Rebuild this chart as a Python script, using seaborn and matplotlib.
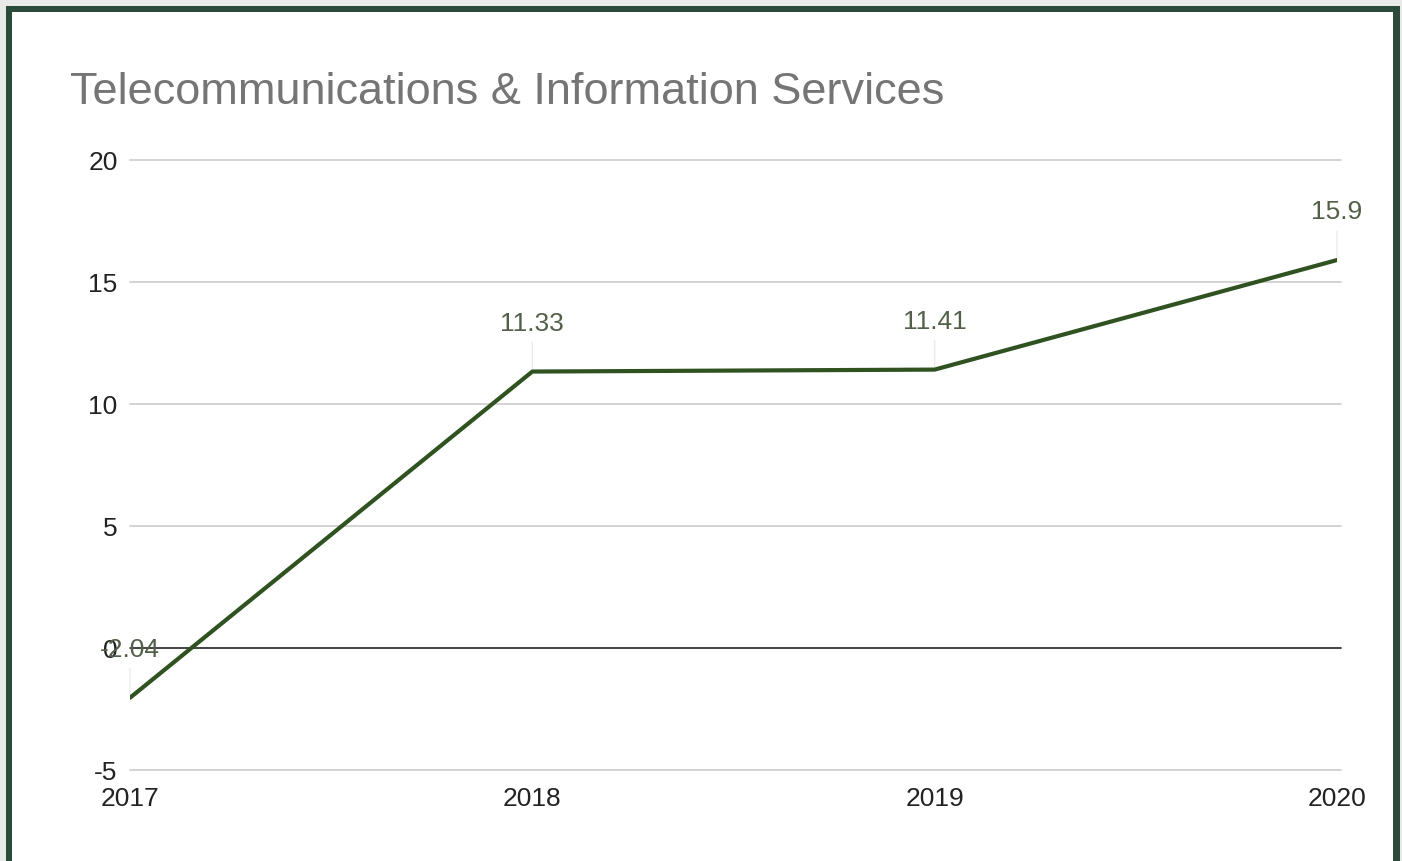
import matplotlib
matplotlib.use("Agg")
import matplotlib.pyplot as plt
import seaborn as sns
import pandas as pd
from matplotlib.patches import Rectangle

years = [2017, 2018, 2019, 2020]
values = [-2.04, 11.33, 11.41, 15.9]
value_labels = ["-2.04", "11.33", "11.41", "15.9"]
y_ticks = [-5, 0, 5, 10, 15, 20]
title = "Telecommunications & Information Services"

sns.set_theme(style="white")
plt.rcParams['font.family'] = ['Liberation Sans', 'DejaVu Sans']

W, H = 1402, 861
fig = plt.figure(figsize=(W / 100, H / 100), dpi=100)
fig.patch.set_facecolor("#e8e9e8")

# frame: dark green border and white interior
fig.patches.append(Rectangle((6 / W, 0), (1400 - 6) / W, (H - 6) / H,
                             transform=fig.transFigure, facecolor="#2c4a3c",
                             edgecolor="none", zorder=-2))
fig.patches.append(Rectangle((12 / W, 0), (1393 - 12) / W, (H - 12) / H,
                             transform=fig.transFigure, facecolor="white",
                             edgecolor="none", zorder=-1))

x0, x1 = 130, 1337
y_top, y_bot = 160, 770
ax = fig.add_axes([x0 / W, (H - y_bot) / H, (x1 - x0) / W, (y_bot - y_top) / H])
ax.set_zorder(2)
ax.set_facecolor("none")

df = pd.DataFrame({"year": years, "value": values})

for t in y_ticks:
    c = "#222222" if t == 0 else "#cccccc"
    ax.plot([2017, 2020.01], [t, t], color=c, lw=1.2, zorder=1, clip_on=False)

sns.lineplot(data=df, x="year", y="value", ax=ax, color="#2f5220", lw=3, zorder=3)

for x, v, lab in zip(years, values, value_labels):
    ax.annotate(lab, xy=(x, v), xytext=(0, 34.5), textcoords="offset points",
                ha="center", va="center", fontsize=19, color="#536049", zorder=4)
    ax.annotate("", xy=(x, v), xytext=(0, 23), textcoords="offset points",
                arrowprops=dict(arrowstyle="-", color="#ebebeb", lw=1), zorder=2)

ax.set_xlim(2017, 2020)
ax.set_ylim(-5, 20)
ax.set_yticks(y_ticks)
ax.set_yticklabels([str(t) for t in y_ticks], fontsize=19, color="#222222")
ax.set_xticks(years)
ax.set_xticklabels([str(y) for y in years], fontsize=19, color="#222222")
ax.tick_params(axis="y", length=0, pad=9)
ax.tick_params(axis="x", length=0, pad=12)
ax.set_xlabel("")
ax.set_ylabel("")
for s in ax.spines.values():
    s.set_visible(False)

fig.text(70 / W, 1 - 93 / H, title, fontsize=32.5, color="#757575", ha="left", va="center")

fig.savefig("out.png", dpi=100, facecolor=fig.get_facecolor())
